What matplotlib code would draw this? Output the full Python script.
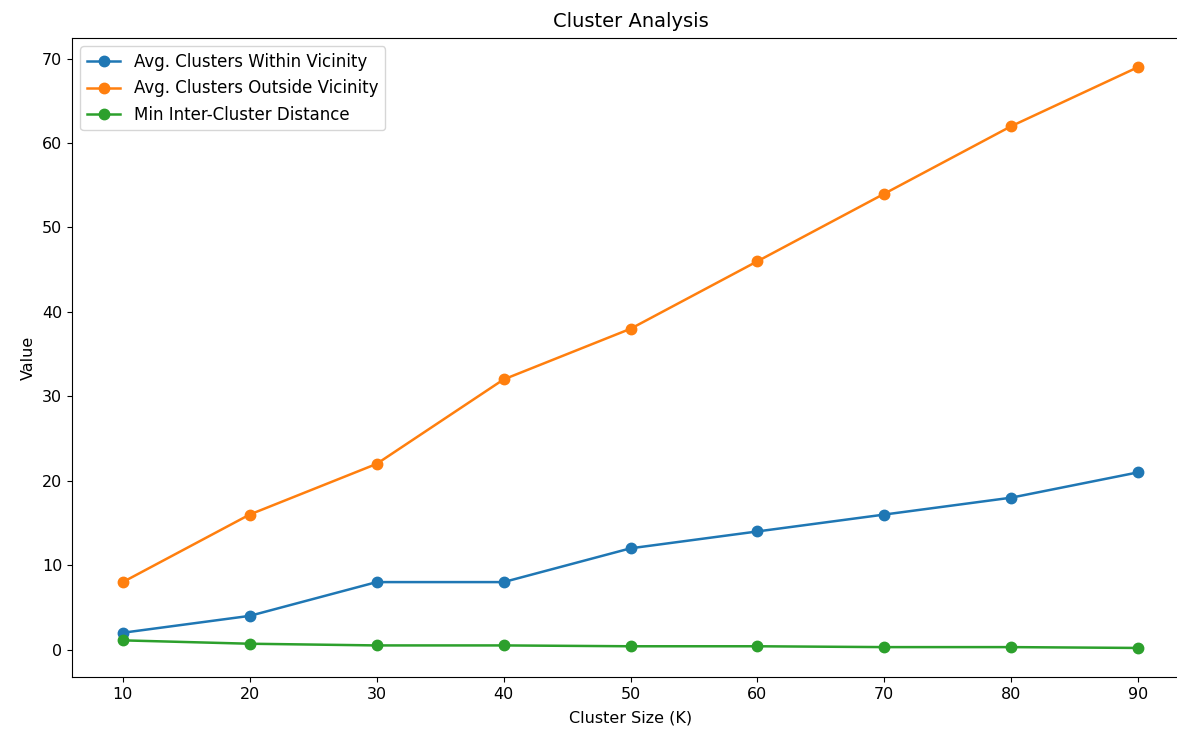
import matplotlib
matplotlib.use("Agg")
import matplotlib.pyplot as plt

cluster_sizes = [10, 20, 30, 40, 50, 60, 70, 80, 90]
within_vicinity = [2, 4, 8, 8, 12, 14, 16, 18, 21]
outside_vicinity = [8, 16, 22, 32, 38, 46, 54, 62, 69]
min_distance = [1.1, 0.7, 0.5, 0.5, 0.4, 0.4, 0.3, 0.3, 0.2]

plt.rcParams["font.size"] = 11.5

fig = plt.figure(figsize=(11.77, 7.30), dpi=100)
# axes extends a little past the right edge, as in the reference crop
ax = fig.add_axes([72 / 1177, 1 - 677 / 730, 1117 / 1177, 639 / 730])

style = dict(marker="o", linewidth=1.8, markersize=7.5)
ax.plot(cluster_sizes, within_vicinity, label="Avg. Clusters Within Vicinity", **style)
ax.plot(cluster_sizes, outside_vicinity, label="Avg. Clusters Outside Vicinity", **style)
ax.plot(cluster_sizes, min_distance, label="Min Inter-Cluster Distance", **style)

ax.set_xticks(cluster_sizes)
ax.set_title("Cluster Analysis", fontsize=14, pad=8)
ax.set_xlabel("Cluster Size (K)", labelpad=6)
ax.set_ylabel("Value")
ax.legend(loc="upper left", fontsize=12)

fig.savefig("out.png", dpi=100)
